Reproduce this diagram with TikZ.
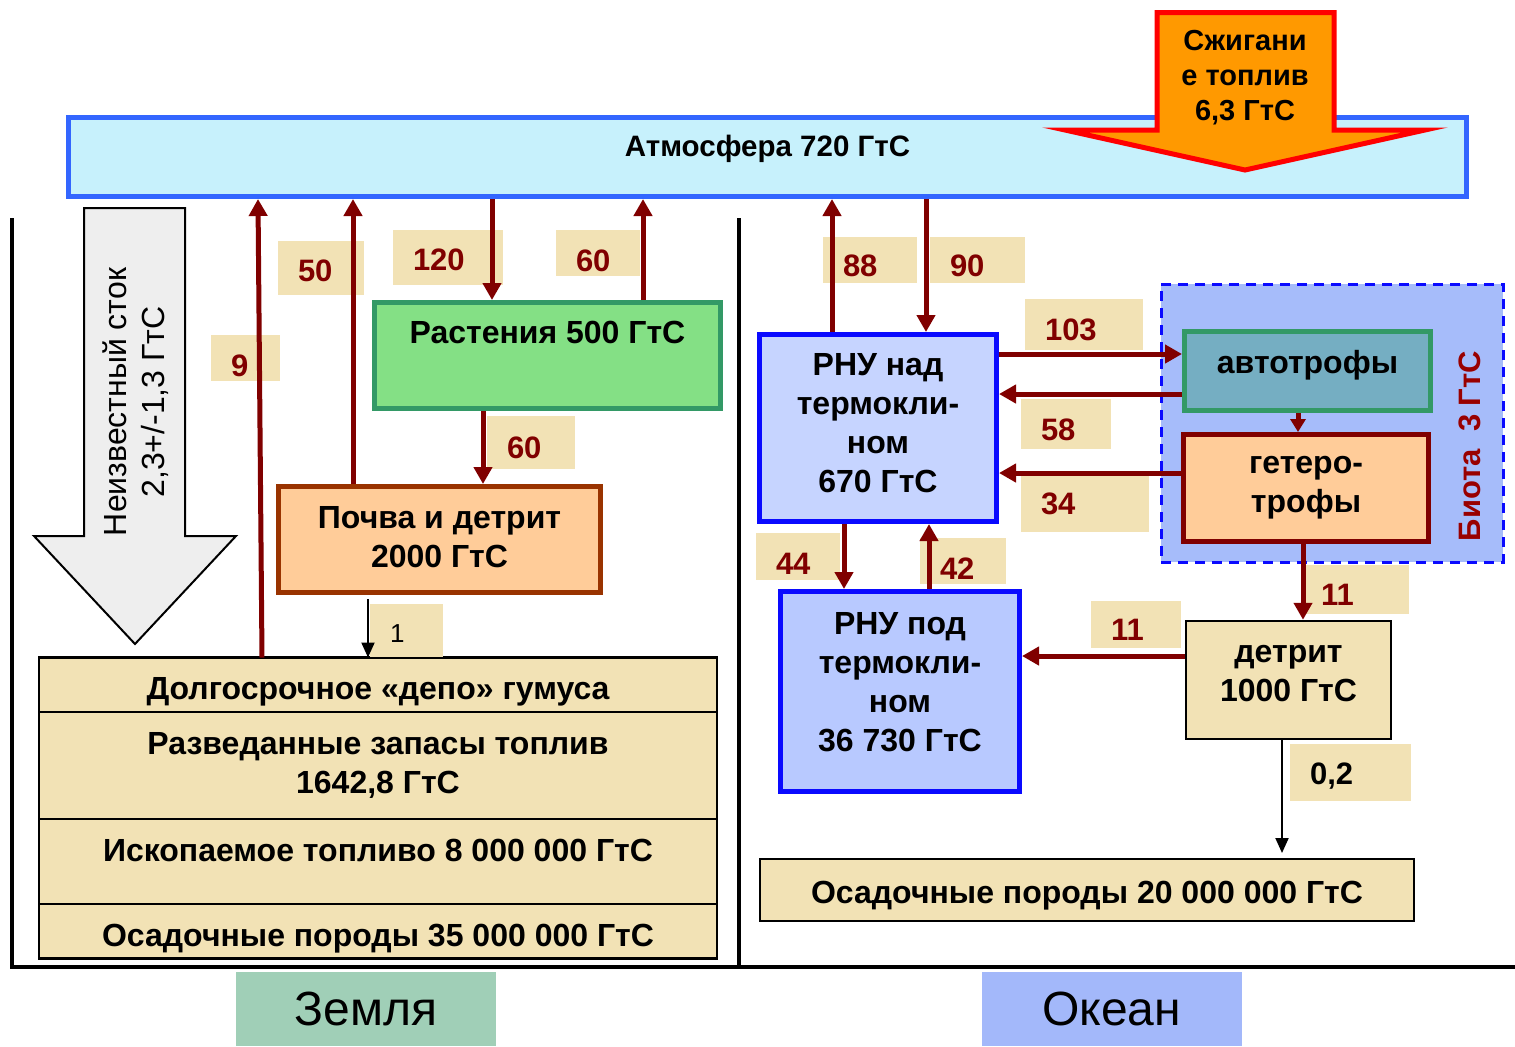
\documentclass[tikz,border=0pt]{standalone}
\usepackage{fontspec}
\setmainfont{Liberation Sans}
\usepackage{xcolor}
\usetikzlibrary{positioning, arrows.meta}

\definecolor{atmfill}{HTML}{C7F1FC}
\definecolor{atmline}{HTML}{3366FF}
\definecolor{burnfill}{HTML}{FF9900}
\definecolor{burnline}{HTML}{FF0000}
\definecolor{plantfill}{HTML}{84E085}
\definecolor{plantline}{HTML}{339966}
\definecolor{soilfill}{HTML}{FFCC99}
\definecolor{soilline}{HTML}{993300}
\definecolor{straw}{HTML}{F2E2B5}
\definecolor{flowred}{HTML}{800000}
\definecolor{rnuup}{HTML}{C6D4FF}
\definecolor{rnudown}{HTML}{B8C9FF}
\definecolor{rnuline}{HTML}{0A0AFF}
\definecolor{biofill}{HTML}{A6BCFA}
\definecolor{autofill}{HTML}{75AEC2}
\definecolor{landfill}{HTML}{A0CFB7}
\definecolor{seafill}{HTML}{A3B8FA}
\definecolor{sinkfill}{HTML}{EEEEEE}
\definecolor{biotext}{HTML}{990000}

\newcommand\boxfont{\fontsize{16pt}{19.5pt}\selectfont\bfseries}
\newcommand\numfont{\fontsize{15.5pt}{19pt}\selectfont\bfseries}
\newcommand\sinkfont{\fontsize{16pt}{19pt}\selectfont}
\newcommand\zonefont{\fontsize{24pt}{28pt}\selectfont}

\begin{document}
\begin{tikzpicture}[
    x=0.5pt, y=-0.5pt,
    box/.style={draw, line width=2.5pt, align=center, font=\boxfont, inner sep=0pt},
    store/.style={draw=black, line width=1.25pt, fill=straw, align=center,
                  font=\boxfont, inner sep=0pt, outer sep=0pt, minimum width=339pt},
    val/.style={fill=straw, font=\numfont, text=flowred, align=left,
                inner xsep=10pt, inner ysep=0pt, text height=16pt, text depth=0pt},
    zone/.style={font=\zonefont, minimum width=130pt, minimum height=37pt},
    flow/.style={draw=flowred, line width=2.5pt, -{Triangle[length=8.5pt, width=9pt]}},
    drop/.style={draw=black, line width=1pt, -{Triangle[length=7.5pt, width=6.5pt]}}
  ]
  \useasboundingbox (0,0) rectangle (1515,1046);

  % frame: land | ocean
  \draw[line width=2.25pt] (12,218) -- (12,967) -- (1515,967);
  \draw[line width=2.25pt] (739,218) -- (739,967);

  % atmosphere and fuel burning
  \node[box, draw=atmline, fill=atmfill, minimum width=699pt, minimum height=39.5pt,
        font=\fontsize{14.75pt}{19pt}\selectfont\bfseries, text depth=11.5pt]
    (atm) at (767.5,157) {Атмосфера 720 ГтС};
  \draw[burnline, fill=burnfill, line width=2.5pt]
    (1157,12.5) -- (1334,12.5) -- (1334,130) -- (1425,130) -- (1245,170)
    -- (1065,130) -- (1157,130) -- cycle;
  \node[font=\fontsize{14.5pt}{17.5pt}\selectfont\bfseries, align=center] (burn)
    at (1245,78) {Сжигани\\е топлив\\6,3 ГтС};

  % unknown sink
  \draw[fill=sinkfill, line width=1pt]
    (84,208) -- (185,208) -- (185,536) -- (236,536) -- (135,644)
    -- (34,536) -- (84,536) -- cycle;
  \node[font=\sinkfont, rotate=90, align=center] (sink) at (136,402)
    {Неизвестный сток\\2,3+/-1,3 ГтС};

  % land
  \node[box, draw=plantline, fill=plantfill, minimum width=173pt, minimum height=53pt,
        text depth=23pt] (plants) at (547.5,355.5) {Растения 500 ГтС};
  \node[box, draw=soilline, fill=soilfill, minimum width=161pt, minimum height=53pt,
        text depth=3pt] (soil) at (439.5,539.5) {Почва и детрит\\2000 ГтС};

  \node[store, minimum height=27.25pt, text height=15pt, text depth=0pt] (humus)
    at (378,684.75) {Долгосрочное «депо» гумуса};
  \node[store, minimum height=53.5pt, below=0pt of humus] (reserves)
    {Разведанные запасы топлив\\1642,8 ГтС};
  \node[store, minimum height=42.5pt, text depth=11pt, below=0pt of reserves] (fossil)
    {Ископаемое топливо 8 000 000 ГтС};
  \node[store, minimum height=27.25pt, text height=15pt, text depth=0pt,
        below=0pt of fossil] (landrock) {Осадочные породы 35 000 000 ГтС};

  % ocean
  \node[box, draw=rnuline, fill=rnuup, minimum width=118.5pt, minimum height=93.5pt,
        text depth=5pt] (upper) at (878,428) {РНУ над\\термокли-\\ном\\670 ГтС};
  \node[box, draw=rnuline, fill=rnudown, minimum width=119.5pt, minimum height=100pt,
        text depth=10pt] (deep) at (900,691.5) {РНУ под\\термокли-\\ном\\36 730 ГтС};

  \node[draw=rnuline, dashed, dash pattern=on 5pt off 3.5pt, fill=biofill, line width=1.5pt,
        minimum width=171pt, minimum height=139pt] (biota) at (1332,423) {};
  \node[font=\numfont, text=biotext, rotate=90] (biolabel) at (1470,446) {Биота\ \ 3 ГтС};
  \node[box, draw=plantline, fill=autofill, minimum width=123pt, minimum height=39.5pt,
        text depth=9.5pt] (auto) at (1307.5,371) {автотрофы};
  \node[box, draw=flowred, fill=soilfill, minimum width=122.5pt, minimum height=53.5pt]
    (hetero) at (1306,488) {гетеро-\\трофы};

  \node[box, draw=black, line width=1.25pt, fill=straw, minimum width=102.5pt,
        minimum height=59pt, text depth=7pt] (detritus) at (1288.5,680) {детрит\\1000 ГтС};
  \node[store, minimum width=327pt, minimum height=31pt, text height=13.5pt, text depth=0pt]
    (searock) at (1087,890) {Осадочные породы 20 000 000 ГтС};

  \node[zone, fill=landfill] (land) at (366,1009) {Земля};
  \node[zone, fill=seafill] (sea) at (1111.5,1009) {Океан};

  % flux values
  \node[val, text width=14.5pt, minimum height=23pt, text height=18pt] (v9) at (245.5,358) {9};
  \node[val, text width=23pt, minimum height=27pt, text height=13pt] (v50) at (321,268) {50};
  \node[val, text width=35pt, minimum height=27.5pt, text height=13pt] (v120) at (448,257.5) {120};
  \node[val, text width=22pt, minimum height=23pt, text height=18pt] (v60a) at (598,253) {60};
  \node[val, text width=24pt, minimum height=26.5pt] (v60b) at (531,442.5) {60};
  \node[val, text width=16.5pt, minimum height=26.5pt, text=black, text height=12pt,
        font=\fontsize{13pt}{15pt}\selectfont] (v1) at (406.5,630.5) {1};
  \node[val, text width=27pt, minimum height=23pt] (v88) at (870,260) {88};
  \node[val, text width=27.5pt, minimum height=23pt] (v90) at (977.5,260) {90};
  \node[val, text width=39pt, minimum height=25.5pt] (v103) at (1084,324.5) {103};
  \node[val, text width=25pt, minimum height=25pt] (v58) at (1066,424) {58};
  \node[val, text width=44pt, minimum height=28.5pt, text height=11pt] (v34) at (1085,503.5) {34};
  \node[val, text width=22pt, minimum height=23.5pt, text height=18pt] (v44) at (798,556.5) {44};
  \node[val, text width=23pt, minimum height=23pt, text height=18pt] (v42) at (963,561) {42};
  \node[val, text width=36pt, minimum height=24.5pt, inner xsep=8pt] (v11a) at (1357,589.5) {11};
  \node[val, text width=25pt, minimum height=23.5pt] (v11b) at (1136,624.5) {11};
  \node[val, text width=40.5pt, minimum height=28.5pt, text=black, text height=12pt]
    (v02) at (1350.5,772.5) {0,2};

  % fluxes
  \draw[flow] (humus.north -| 262,0) -- (atm.south -| 258,0);
  \draw[flow] (soil.north -| 353,0) -- (atm.south -| 353,0);
  \draw[flow] (atm.south -| 492,0) -- (plants.north -| 492,0);
  \draw[flow] (plants.north -| 643,0) -- (atm.south -| 643,0);
  \draw[flow] (plants.south -| 483,0) -- (soil.north -| 483,0);
  \draw[drop, shorten <=2pt] (soil.south -| 368,0) -- (humus.north -| 368,0);

  \draw[flow] (upper.north -| 832,0) -- (atm.south -| 832,0);
  \draw[flow] (atm.south -| 926,0) -- (upper.north -| 926,0);
  \draw[flow] (upper.east |- 0,354) -- (auto.west |- 0,354);
  \draw[flow] (auto.west |- 0,394) -- (upper.east |- 0,394);
  \draw[flow] (hetero.west |- 0,473) -- (upper.east |- 0,473);
  \draw[flow, -{Triangle[length=6.5pt, width=7.5pt]}] (auto.south -| 1298,0) -- (hetero.north -| 1298,0);
  \draw[flow] (upper.south -| 844,0) -- (deep.north -| 844,0);
  \draw[flow] (deep.north -| 929,0) -- (upper.south -| 929,0);
  \draw[flow] (hetero.south -| 1303,0) -- (detritus.north -| 1303,0);
  \draw[flow] (detritus.west |- 0,656) -- (deep.east |- 0,656);
  \draw[drop, shorten >=3pt] (detritus.south -| 1282,0) -- (searock.north -| 1282,0);
\end{tikzpicture}
\end{document}
